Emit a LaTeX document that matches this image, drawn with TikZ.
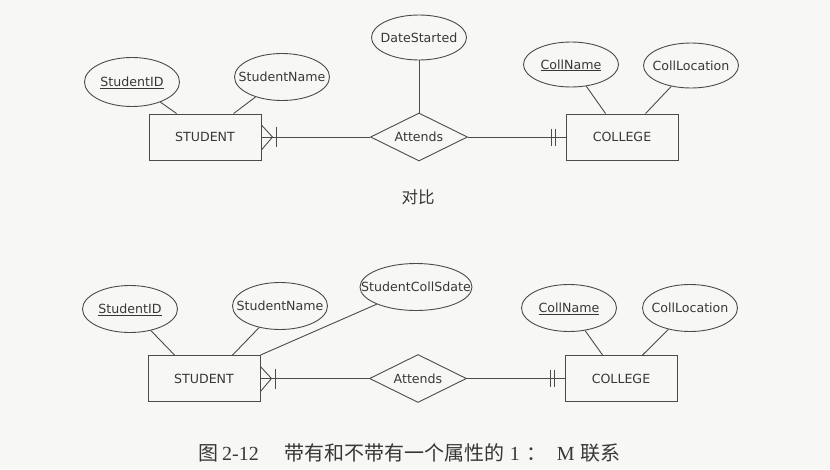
\documentclass[tikz,border=0pt]{standalone}
\usepackage{fontspec}
\usetikzlibrary{shapes.geometric,calc}
\newfontfamily\dvfont{DejaVu Sans}
\newfontfamily\cjk{Noto Sans CJK SC}
\newfontfamily\capserif{Liberation Serif}
\definecolor{bgc}{RGB}{247,247,245}
\definecolor{linec}{RGB}{75,75,75}
\definecolor{textc}{RGB}{55,55,55}
% zero-size text box, visually centred on the node centre
\newcommand{\ztext}[1]{\raisebox{-0.36em}[0pt][0pt]{\makebox[0pt]{#1}}}
\tikzset{
  base/.style={draw=linec, line width=0.9pt, text=textc, inner sep=0pt,
    font=\dvfont\fontsize{12.6}{15}\selectfont},
  attr/.style={base, ellipse, minimum width=95pt, minimum height=47pt},
  wideattr/.style={attr, minimum width=112pt},
  ent/.style={base, rectangle, minimum width=112pt, minimum height=46pt},
  rel/.style={base, diamond, minimum width=97pt, minimum height=48pt},
  conn/.style={draw=linec, line width=0.9pt},
}
\begin{document}
\begin{tikzpicture}[x=1pt,y=-1pt]
\fill[bgc] (0,0) rectangle (830,469);
\useasboundingbox (0,0) rectangle (830,469);

% ---------- top diagram ----------
\node[attr, minimum height=49pt] (sid1) at (132,82) {\ztext{\underline{StudentID}}};
\node[attr] (sname1) at (282,77) {\ztext{StudentName}};
\node[ent] (student1) at (205,137) {\ztext{STUDENT}};
\node[attr, minimum height=45pt] (date1) at (419,37.5) {\ztext{DateStarted}};
\node[rel] (attends1) at (419,137) {\ztext{Attends}};
\node[ent] (college1) at (622,137) {\ztext{COLLEGE}};
\node[attr, minimum height=45pt] (cname1) at (571,64.5) {\ztext{\underline{CollName}}};
\node[attr, minimum height=45pt] (cloc1) at (691,65.5) {\ztext{CollLocation}};
\node[text=textc, inner sep=0pt, font=\cjk\fontsize{16.5}{18}\selectfont] (cmp) at (418,197) {对比};

\draw[conn] (sid1) -- ($(student1.north west)+(28,0)$);
\draw[conn] (sname1) -- ($(student1.north west)+(85,0)$);
\draw[conn] (date1) -- (attends1);
\draw[conn] (cname1) -- ($(college1.north west)+(40,0)$);
\draw[conn] (cloc1) -- ($(college1.north west)+(80,0)$);
\draw[conn] (student1.east) -- (attends1.west);
\draw[conn] (attends1.east) -- (college1.west);
% crow's foot (many) at STUDENT
\draw[conn] ($(student1.east)+(0,-12)$) -- ($(student1.east)+(11,0)$) -- ($(student1.east)+(0,13)$);
\draw[conn] ($(student1.east)+(15,-10)$) -- ($(student1.east)+(15,10)$);
% one and only one at COLLEGE
\draw[conn] ($(college1.west)+(-14,-8.5)$) -- ($(college1.west)+(-14,8.5)$);
\draw[conn] ($(college1.west)+(-10,-8.5)$) -- ($(college1.west)+(-10,8.5)$);

% ---------- bottom diagram ----------
\node[attr] (sid2) at (130,309) {\ztext{\underline{StudentID}}};
\node[attr] (sname2) at (280,306) {\ztext{StudentName}};
\node[wideattr] (scs2) at (416,287) {\ztext{StudentCollSdate}};
\node[ent] (student2) at (204,378.5) {\ztext{STUDENT}};
\node[rel] (attends2) at (418,378.5) {\ztext{Attends}};
\node[ent] (college2) at (621,378.5) {\ztext{COLLEGE}};
\node[attr] (cname2) at (569,308) {\ztext{\underline{CollName}}};
\node[attr] (cloc2) at (690,308) {\ztext{CollLocation}};

\draw[conn] (sid2) -- ($(student2.north west)+(27,0)$);
\draw[conn] (sname2) -- ($(student2.north west)+(85,0)$);
\draw[conn] (scs2) -- (student2.north east);
\draw[conn] (cname2) -- ($(college2.north west)+(38,0)$);
\draw[conn] (cloc2) -- ($(college2.north west)+(78,0)$);
\draw[conn] (student2.east) -- (attends2.west);
\draw[conn] (attends2.east) -- (college2.west);
\draw[conn] ($(student2.east)+(0,-12)$) -- ($(student2.east)+(11,0)$) -- ($(student2.east)+(0,13)$);
\draw[conn] ($(student2.east)+(15,-10)$) -- ($(student2.east)+(15,10)$);
\draw[conn] ($(college2.west)+(-14,-8.5)$) -- ($(college2.west)+(-14,8.5)$);
\draw[conn] ($(college2.west)+(-10,-8.5)$) -- ($(college2.west)+(-10,8.5)$);

% ---------- caption ----------
\node[text=textc, inner sep=0pt, anchor=west, font=\cjk\fontsize{20}{22}\selectfont] (cap) at (198,453)
  {图\hspace{4pt}{\capserif 2-12}\hspace{26pt}带有和不带有一个属性的\hspace{5pt}{\capserif 1}\hspace{7pt}：\hspace{10pt}{\capserif M}\hspace{6pt}联系};
\end{tikzpicture}
\end{document}
